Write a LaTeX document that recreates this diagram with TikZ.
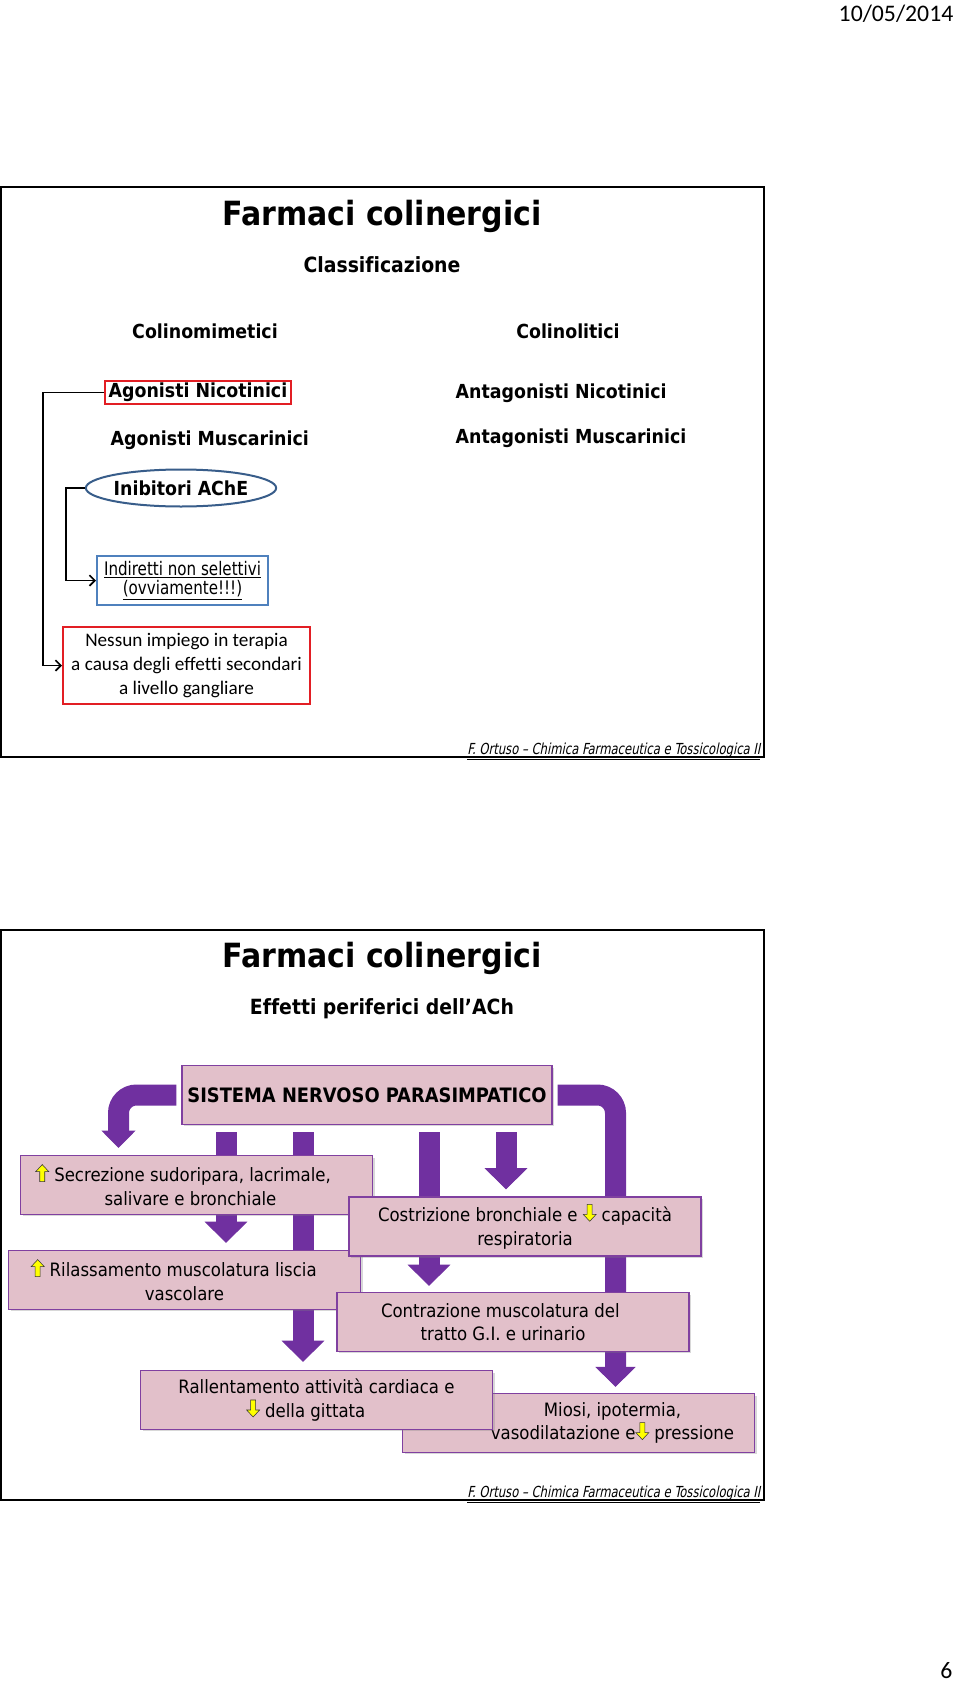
\documentclass[tikz,border=0pt]{standalone}
\usepackage{fontspec}
\setmainfont[Ligatures=NoCommon]{DejaVu Sans Condensed}
\newfontfamily\calibri[Ligatures=NoCommon]{Carlito}
\newfontfamily\narrowfont[FakeStretch=0.9]{DejaVu Sans Condensed}
\newfontfamily\footfont[FakeStretch=0.85,FakeSlant=0.2]{DejaVu Sans Condensed}
\usepackage{xcolor}
\usepackage{tikz}
\usetikzlibrary{arrows.meta,positioning,calc,shapes.geometric,shadows}

\definecolor{boxpink}{RGB}{226,192,202}
\definecolor{boxline}{RGB}{128,64,160}
\definecolor{flowpurple}{RGB}{112,48,160}
\definecolor{redline}{RGB}{226,30,36}
\definecolor{blueline}{RGB}{79,129,189}
\definecolor{ovalline}{RGB}{56,93,138}
\definecolor{hiyellow}{RGB}{255,255,0}

\pgfdeclarelayer{background}
\pgfsetlayers{background,main}

% small yellow arrows used inside the effect boxes
\newsavebox\uparr
\sbox\uparr{\tikz\filldraw[fill=hiyellow,draw=black!80,line width=0.4pt] (3pt,0) -- (3pt,7.5pt) -- (0,7.5pt) -- (4.875pt,12.75pt) -- (9.75pt,7.5pt) -- (6.75pt,7.5pt) -- (6.75pt,0) -- cycle;}
\newsavebox\dnarr
\sbox\dnarr{\tikz\filldraw[fill=hiyellow,draw=black!80,line width=0.4pt] (3pt,12.75pt) -- (3pt,5.25pt) -- (0,5.25pt) -- (4.875pt,0) -- (9.75pt,5.25pt) -- (6.75pt,5.25pt) -- (6.75pt,12.75pt) -- cycle;}

\begin{document}
\begin{tikzpicture}[x=0.75pt, y=-0.75pt, >={Straight Barb[length=4pt,width=8pt]},
    slide/.style={draw=black, line width=1.5pt},
    title/.style={font=\bfseries\fontsize{25}{30}\selectfont},
    subtitle/.style={font=\bfseries\fontsize{15.7}{19}\selectfont},
    head/.style={font=\bfseries\fontsize{14.5}{17}\selectfont},
    effect/.style={draw=boxline, line width=1.1pt, fill=boxpink, minimum width=264pt, minimum height=44pt,
      inner sep=0pt, align=center, font=\fontsize{13.8}{17.7}\selectfont,
      drop shadow={opacity=0.3, shadow xshift=1.5pt, shadow yshift=-1.5pt}},
    flow/.style={draw=flowpurple, line width=15.75pt, -{Triangle[width=32pt,length=16pt,line width=0.75pt]}},
    footnote/.style={font=\footfont\fontsize{11.4}{13}\selectfont, anchor=base east}]
    \useasboundingbox (0,0) rectangle (960,1684);

    \node[font=\calibri\fontsize{17.8}{22}\selectfont, anchor=base east] (date) at (958,22) {10/05/2014};
    \node[font=\calibri\fontsize{17.8}{22}\selectfont, anchor=base east] (page) at (957,1678) {6};

    % Slide 1: classificazione
    \draw[slide] (1,187) rectangle (764,757);
    \node[title] (title1) at (382,216) {Farmaci colinergici};
    \node[subtitle] (classif) at (382,265) {Classificazione};
    \node[head] (colmim) at (205,331) {Colinomimetici};
    \node[head] (collit) at (568,331) {Colinolitici};
    \node[head, draw=redline, line width=1.5pt, minimum width=139.5pt, minimum height=17.25pt, inner sep=1pt] (agnic) at (198,392.5) {Agonisti Nicotinici};
    \node[head, anchor=west] (agmus) at (106,440) {Agonisti Muscarinici};
    \node[head, anchor=west] (antnic) at (451,393) {Antagonisti Nicotinici};
    \node[head, anchor=west] (antmus) at (451,438) {Antagonisti Muscarinici};
    \node[head, ellipse, draw=ovalline, line width=1.5pt, fill=white, minimum width=132pt, minimum height=27.75pt, inner sep=0pt] (ache) at (181,488) {Inibitori AChE};
    \node[draw=blueline, line width=1.5pt, minimum width=128.25pt, minimum height=36.75pt, inner sep=1pt, align=center,
      font=\narrowfont\fontsize{14}{14.5}\selectfont] (indir) at (182.5,580.5) {\underline{Indiretti non selettivi}\\\underline{(ovviamente!!!)}};
    \node[draw=redline, line width=1.5pt, minimum width=185.25pt, minimum height=57.75pt, inner sep=1pt, align=center,
      font=\calibri\fontsize{14.4}{17.7}\selectfont] (nessun) at (186.5,665.5) {Nessun impiego in terapia\\a causa degli effetti secondari\\a livello gangliare};
    \draw[->, line width=1.2pt] (agnic.west) -- ++(-61,0) |- (nessun.west);
    \draw[->, line width=1.2pt] (ache.west) -- ++(-19,0) |- (indir.west);
    \node[footnote] (foot1) at (765,754) {\underline{F. Ortuso – Chimica Farmaceutica e Tossicologica II}};

    % Slide 2: effetti periferici
    \draw[slide] (1,930) rectangle (764,1500);
    \node[title] (title2) at (382,958) {Farmaci colinergici};
    \node[subtitle] (effetti) at (382,1009) {Effetti periferici dell’ACh};
    \node[effect, minimum width=277.5pt, font=\bfseries\fontsize{14.9}{17}\selectfont] (sis) at (367,1095) {SISTEMA NERVOSO PARASIMPATICO};
    \node[effect] (sec) at (196.5,1185) {\usebox\uparr\ Secrezione sudoripara, lacrimale,\hspace*{20pt}\\salivare e bronchiale\hspace*{9pt}};
    \node[effect] (ril) at (184.5,1280) {\usebox\uparr\ Rilassamento muscolatura liscia\hspace*{16pt}\\vascolare};
    \node[effect] (cos) at (525,1226.5) {Costrizione bronchiale e \usebox\dnarr\ capacità\\respiratoria};
    \node[effect] (cont) at (513,1322) {Contrazione muscolatura del\hspace*{19pt}\\tratto G.I. e urinario\hspace*{15pt}};
    \node[effect] (miosi) at (578.5,1423) {\hspace*{51pt}Miosi, ipotermia,\\\hspace*{51pt}vasodilatazione e\usebox\dnarr\ pressione};
    \node[effect] (rall) at (316.5,1400) {Rallentamento attività cardiaca e\\\usebox\dnarr\ della gittata\hspace*{16pt}};

    % block arrows behind the boxes
    \begin{pgfonlayer}{background}
      \fill[white] (0,0) rectangle (960,1684);
      \draw[flow, rounded corners=13.5pt, -{Triangle[width=25.5pt,length=13pt,line width=0.75pt]}] ([xshift=-3.75pt]sis.west) -| ($(sec.north)+(-78,-7)$);
      \draw[flow, rounded corners=13.5pt, -{Triangle[width=30pt,length=15pt,line width=0.75pt]}] ([xshift=3.75pt]sis.east) -| ($(miosi.north)+(37,-6)$);
      \draw[flow] ($(sis.south)+(-141,7)$) coordinate (s1) -- ($(s1 |- ril.north)+(0,-7)$);
      \draw[flow] ($(sis.south)+(-64,7)$) coordinate (s2) -- ($(s2 |- rall.north)+(0,-8)$);
      \draw[flow] ($(sis.south)+(62,7)$) coordinate (s3) -- ($(s3 |- cont.north)+(0,-6)$);
      \draw[flow] ($(sis.south)+(139,7)$) coordinate (s4) -- ($(s4 |- cos.north)+(0,-7)$);
    \end{pgfonlayer}
    \node[footnote] (foot2) at (765,1497) {\underline{F. Ortuso – Chimica Farmaceutica e Tossicologica II}};
\end{tikzpicture}
\end{document}
